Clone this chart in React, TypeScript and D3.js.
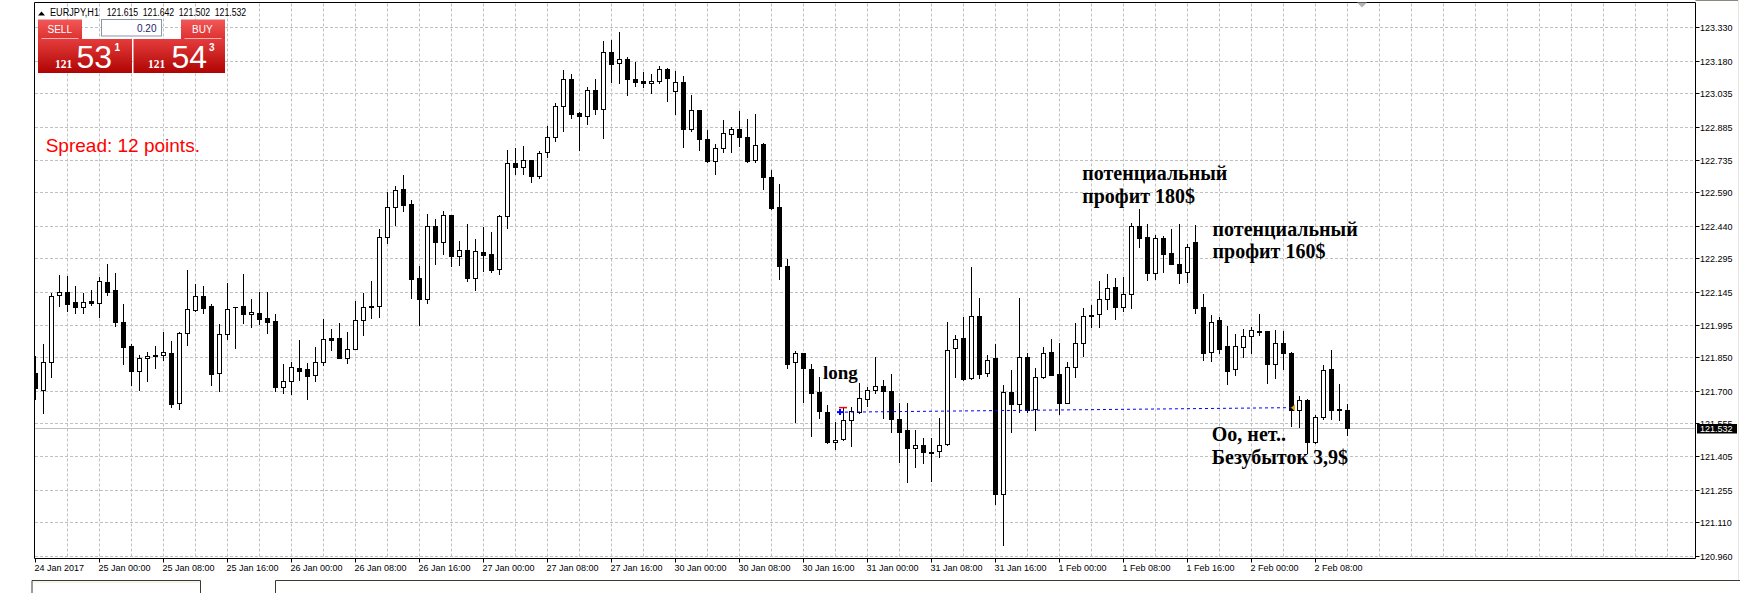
import React from "react";
import * as d3 from "d3";

// ---- DATA (EURJPY, H1) ----
const symbolTitle = "EURJPY,H1";
const headerOHLC = ["121.615", "121.642", "121.502", "121.532"];
const lotSize = "0.20";
const sellQuote = { big: "121", main: "53", small: "1" };
const buyQuote = { big: "121", main: "54", small: "3" };
const spreadText = "Spread: 12 points.";
const lastPrice = 121.532;

const open = [
  121.778, 121.703, 121.827, 122.128, 122.145, 122.096, 122.074, 122.101, 122.092, 122.187,
  122.150, 122.006, 121.899, 121.790, 121.845, 121.858, 121.858, 121.869, 121.643, 121.957,
  122.060, 122.125, 122.080, 121.778, 121.953, 122.074, 122.080, 122.042, 122.047, 122.026,
  122.011, 121.715, 121.742, 121.800, 121.796, 121.769, 121.827, 121.935, 121.935, 121.845,
  121.888, 122.015, 122.080, 122.078, 122.388, 122.525, 122.605, 122.537, 122.205, 122.113,
  122.439, 122.368, 122.486, 122.302, 122.331, 122.204, 122.320, 122.312, 122.244, 122.485,
  122.720, 122.705, 122.733, 122.664, 122.769, 122.836, 122.977, 123.097, 122.944, 122.931,
  123.047, 122.962, 123.218, 123.168, 123.186, 123.097, 123.088, 123.079, 123.088, 123.141,
  123.044, 123.083, 122.872, 122.958, 122.827, 122.729, 122.787, 122.851, 122.875, 122.836,
  122.735, 122.807, 122.657, 122.522, 122.258, 121.828, 121.867, 121.796, 121.692, 121.603,
  121.470, 121.485, 121.568, 121.603, 121.661, 121.703, 121.722, 121.697, 121.571, 121.522,
  121.441, 121.458, 121.423, 121.429, 121.459, 121.890, 121.935, 121.755, 122.033, 121.778,
  121.845, 121.235, 121.692, 121.639, 121.852, 121.616, 121.760, 121.875, 121.773, 121.646,
  121.808, 121.915, 122.041, 122.042, 122.110, 122.163, 122.077, 122.135, 122.440, 122.388,
  122.229, 122.385, 122.317, 122.268, 122.231, 122.367, 122.075, 121.875, 122.017, 121.899,
  121.796, 121.894, 121.945, 121.968, 121.966, 121.818, 121.912, 121.869, 121.613, 121.658,
  121.471, 121.583, 121.797, 121.618, 121.615,
];
const high = [
  121.855, 121.909, 122.139, 122.217, 122.214, 122.168, 122.138, 122.150, 122.210, 122.268,
  122.226, 122.087, 121.909, 121.858, 121.873, 121.902, 121.962, 121.921, 121.965, 122.241,
  122.178, 122.169, 122.087, 121.999, 122.181, 122.077, 122.223, 122.111, 122.145, 122.145,
  122.044, 121.820, 121.827, 121.927, 121.824, 121.896, 122.021, 121.976, 122.002, 121.963,
  122.102, 122.137, 122.192, 122.424, 122.590, 122.618, 122.667, 122.555, 122.259, 122.492,
  122.468, 122.506, 122.488, 122.371, 122.446, 122.382, 122.434, 122.410, 122.488, 122.780,
  122.787, 122.796, 122.736, 122.775, 122.887, 122.989, 123.137, 123.122, 122.952, 123.064,
  123.097, 123.269, 123.275, 123.309, 123.198, 123.176, 123.130, 123.119, 123.156, 123.147,
  123.136, 123.112, 123.026, 122.960, 122.869, 122.807, 122.914, 122.884, 122.953, 122.917,
  122.940, 122.811, 122.690, 122.627, 122.291, 121.878, 121.870, 121.821, 121.763, 121.636,
  121.558, 121.624, 121.628, 121.733, 121.718, 121.852, 121.748, 121.773, 121.646, 121.646,
  121.523, 121.489, 121.487, 121.577, 122.006, 121.950, 122.032, 122.253, 122.116, 121.860,
  121.908, 121.725, 121.793, 122.116, 121.867, 121.800, 121.894, 121.932, 121.912, 121.827,
  122.005, 122.072, 122.084, 122.193, 122.222, 122.204, 122.208, 122.454, 122.513, 122.446,
  122.398, 122.394, 122.425, 122.446, 122.358, 122.442, 122.132, 122.039, 122.030, 121.990,
  121.953, 121.977, 121.987, 122.042, 121.968, 121.972, 121.966, 121.875, 121.676, 121.661,
  121.591, 121.815, 121.882, 121.730, 121.642,
];
const low = [
  121.665, 121.601, 121.763, 122.081, 122.057, 122.050, 122.050, 122.086, 122.032, 122.128,
  121.991, 121.822, 121.727, 121.703, 121.745, 121.803, 121.840, 121.628, 121.619, 121.906,
  122.057, 122.047, 121.727, 121.700, 121.933, 121.893, 122.005, 121.988, 121.997, 121.960,
  121.697, 121.691, 121.686, 121.748, 121.664, 121.745, 121.815, 121.882, 121.846, 121.825,
  121.886, 121.951, 122.027, 122.029, 122.364, 122.443, 122.507, 122.117, 121.993, 122.095,
  122.270, 122.314, 122.261, 122.264, 122.193, 122.151, 122.238, 122.234, 122.222, 122.428,
  122.673, 122.670, 122.638, 122.652, 122.750, 122.818, 122.866, 122.922, 122.781, 122.895,
  122.943, 122.835, 123.083, 123.082, 123.028, 123.068, 123.064, 123.037, 123.082, 123.001,
  122.940, 122.792, 122.866, 122.778, 122.727, 122.673, 122.769, 122.772, 122.799, 122.727,
  122.727, 122.603, 122.513, 122.199, 121.800, 121.561, 121.650, 121.498, 121.576, 121.466,
  121.437, 121.477, 121.450, 121.598, 121.633, 121.691, 121.576, 121.516, 121.381, 121.292,
  121.356, 121.374, 121.296, 121.404, 121.456, 121.763, 121.748, 121.752, 121.758, 121.766,
  121.190, 121.010, 121.516, 121.603, 121.604, 121.523, 121.755, 121.770, 121.594, 121.643,
  121.760, 121.857, 121.987, 121.987, 122.066, 122.020, 122.059, 122.072, 122.346, 122.196,
  122.201, 122.232, 122.268, 122.181, 122.187, 122.050, 121.837, 121.834, 121.867, 121.730,
  121.770, 121.852, 121.870, 121.950, 121.733, 121.758, 121.797, 121.543, 121.538, 121.419,
  121.464, 121.573, 121.571, 121.568, 121.502,
];
const close = [
  121.710, 121.827, 122.126, 122.145, 122.090, 122.074, 122.096, 122.095, 122.190, 122.145,
  122.009, 121.897, 121.790, 121.845, 121.854, 121.854, 121.872, 121.640, 121.957, 122.065,
  122.125, 122.072, 121.776, 121.953, 122.065, 122.077, 122.042, 122.051, 122.023, 122.009,
  121.718, 121.742, 121.808, 121.790, 121.767, 121.827, 121.930, 121.927, 121.848, 121.888,
  122.015, 122.074, 122.074, 122.388, 122.522, 122.599, 122.534, 122.202, 122.113, 122.437,
  122.368, 122.486, 122.305, 122.331, 122.207, 122.325, 122.307, 122.241, 122.484, 122.720,
  122.705, 122.733, 122.664, 122.766, 122.836, 122.977, 123.097, 122.943, 122.931, 123.047,
  122.962, 123.218, 123.164, 123.186, 123.097, 123.083, 123.079, 123.088, 123.141, 123.101,
  123.083, 122.872, 122.958, 122.827, 122.729, 122.787, 122.854, 122.875, 122.836, 122.729,
  122.801, 122.660, 122.519, 122.258, 121.822, 121.870, 121.800, 121.688, 121.607, 121.468,
  121.480, 121.568, 121.607, 121.666, 121.703, 121.722, 121.700, 121.571, 121.516, 121.441,
  121.458, 121.423, 121.419, 121.458, 121.884, 121.930, 121.752, 122.033, 121.773, 121.840,
  121.235, 121.692, 121.642, 121.852, 121.613, 121.763, 121.870, 121.772, 121.643, 121.808,
  121.915, 122.036, 122.036, 122.110, 122.162, 122.077, 122.135, 122.440, 122.386, 122.229,
  122.383, 122.313, 122.270, 122.229, 122.343, 122.072, 121.870, 122.009, 121.888, 121.790,
  121.899, 121.945, 121.971, 121.962, 121.818, 121.912, 121.867, 121.613, 121.658, 121.471,
  121.583, 121.793, 121.615, 121.613, 121.532,
];

const priceTicks = [
  123.33, 123.18, 123.035, 122.885, 122.735, 122.59, 122.44, 122.295, 122.145,
  121.995, 121.85, 121.7, 121.555, 121.405, 121.255, 121.11, 120.96,
];
const priceTickLabels = [
  "123.330", "123.180", "123.035", "122.885", "122.735", "122.590", "122.440", "122.295", "122.145",
  "121.995", "121.850", "121.700", "121.555", "121.405", "121.255", "121.110", "120.960",
];
const timeTickBars = [0, 8, 16, 24, 32, 40, 48, 56, 64, 72, 80, 88, 96, 104, 112, 120, 128, 136, 144, 152, 160];
const timeTickLabels = [
  "24 Jan 2017", "25 Jan 00:00", "25 Jan 08:00", "25 Jan 16:00", "26 Jan 00:00", "26 Jan 08:00",
  "26 Jan 16:00", "27 Jan 00:00", "27 Jan 08:00", "27 Jan 16:00", "30 Jan 00:00", "30 Jan 08:00",
  "30 Jan 16:00", "31 Jan 00:00", "31 Jan 08:00", "31 Jan 16:00", "1 Feb 00:00", "1 Feb 08:00",
  "1 Feb 16:00", "2 Feb 00:00", "2 Feb 08:00",
];

// trade line (open -> close)
const tradeOpen = { bar: 100.75, price: 121.604 };
const tradeClose = { bar: 157, price: 121.624 };

// annotations (anchor = first line baseline)
const noteBars = [98.5, 130.9, 147.2, 147.1];
const notePrices = [121.752, 122.645, 122.394, 121.474];
const noteLines = [
  ["long"],
  ["потенциальный", "профит 180$"],
  ["потенциальный", "профит 160$"],
  ["Оо, нет..", "Безубыток 3,9$"],
];

// ---- LAYOUT ----
const W = 1762;
const H = 593;
const L = 34.5;
const R = 1695.5;
const T = 2.5;
const B = 558.5;

const xScale = d3.scaleLinear().domain([0, 164]).range([35, 35 + 8 * 164]);
const yScale = d3.scaleLinear().domain([120.96, 123.33]).range([555.7, 27.3]);

const GRID = "#c0c0c0";
const UI_FONT = "'Liberation Sans', Arial, sans-serif";
const SERIF = "'Liberation Serif', 'Times New Roman', serif";

export default function App() {
  React.useEffect(() => {
    document.body.style.margin = "0";
    document.body.style.overflow = "hidden";
  }, []);

  const px = (i: number) => Math.round(xScale(i)) + 0.5;
  const py = (p: number) => Math.round(yScale(p)) + 0.5;

  const vGridBars = d3.range(4, 208, 4);

  const candles = open.map((o, i) => {
    const c = close[i];
    const h = high[i];
    const l = low[i];
    const cx = px(i);
    const bull = c >= o;
    const top = Math.round(yScale(Math.max(o, c)));
    const bot = Math.round(yScale(Math.min(o, c)));
    return (
      <g key={i}>
        <line x1={cx} x2={cx} y1={Math.round(yScale(h))} y2={Math.round(yScale(l)) + 1} stroke="#000" strokeWidth={1} />
        {bot - top >= 1 ? (
          <rect x={cx - 2} y={top + 0.5} width={4} height={bot - top} fill={bull ? "#fff" : "#000"} stroke="#000" strokeWidth={1} />
        ) : (
          <line x1={cx - 2.5} x2={cx + 2.5} y1={top + 0.5} y2={top + 0.5} stroke="#000" strokeWidth={1} />
        )}
      </g>
    );
  });

  const tx1 = xScale(tradeOpen.bar);
  const ty1 = yScale(tradeOpen.price);
  const tx2 = xScale(tradeClose.bar);
  const ty2 = yScale(tradeClose.price);

  return (
    <svg width={W} height={H} style={{ position: "absolute", left: 0, top: 0, background: "#fff", display: "block" }}>
      <defs>
        <clipPath id="plot">
          <rect x={35} y={3} width={R - 35} height={B - 3} />
        </clipPath>
        <linearGradient id="boxGrad" x1="0" y1="0" x2="0" y2="1">
          <stop offset="0%" stopColor="#e43c3c" />
          <stop offset="100%" stopColor="#b00404" />
        </linearGradient>
        <linearGradient id="tabGrad" x1="0" y1="0" x2="0" y2="1">
          <stop offset="0%" stopColor="#f25858" />
          <stop offset="100%" stopColor="#dc3030" />
        </linearGradient>
      </defs>
      <rect x={0} y={0} width={W} height={H} fill="#fff" />

      {/* grid */}
      <g stroke={GRID} strokeWidth={1} strokeDasharray="3,2">
        {priceTicks.map((p, k) => (
          <line key={"h" + k} x1={35} x2={R - 0.5} y1={py(p)} y2={py(p)} />
        ))}
        {vGridBars.map((b) => (
          <line key={"v" + b} x1={px(b)} x2={px(b)} y1={T + 1} y2={B - 0.5} />
        ))}
      </g>

      {/* bid line */}
      <line x1={35} x2={R} y1={py(lastPrice)} y2={py(lastPrice)} stroke="#c0c0c0" strokeWidth={1} />

      {/* candles */}
      <g clipPath="url(#plot)">{candles}</g>

      {/* trade line */}
      <line x1={tx1 + 4} y1={ty1} x2={tx2} y2={ty2} stroke="#0000ff" strokeWidth={1} strokeDasharray="3,3" />
      <g stroke="#0000ff" strokeWidth={2}>
        <line x1={tx1 - 4} x2={tx1 + 3} y1={ty1} y2={ty1} />
        <line x1={tx1 - 1} x2={tx1 - 1} y1={ty1 - 3} y2={ty1 + 3} />
      </g>
      <line x1={tx1 - 2} x2={tx1 + 6} y1={ty1 - 4.5} y2={ty1 - 4.5} stroke="#ff0000" strokeWidth={1.5} />
      <path d={`M${tx2},${ty2} L${tx2 + 4},${ty2 - 3.5} L${tx2 + 4},${ty2 + 3.5} Z`} fill="#daa520" />

      {/* annotations */}
      {noteLines.map((lines, k) => (
        <text
          key={"n" + k}
          x={xScale(noteBars[k])}
          y={yScale(notePrices[k])}
          fontFamily={SERIF}
          fontWeight="bold"
          fontSize={k === 0 ? 19 : 20}
          fill="#000"
        >
          {lines.map((ln, j) => (
            <tspan key={j} x={xScale(noteBars[k])} dy={j === 0 ? 0 : 22.5}>{ln}</tspan>
          ))}
        </text>
      ))}

      {/* frame */}
      <g stroke="#000" strokeWidth={1} fill="none">
        <line x1={L} x2={L} y1={T} y2={B} />
        <line x1={L} x2={R} y1={B} y2={B} />
        <line x1={R} x2={R} y1={T} y2={B} />
        <line x1={L} x2={R} y1={T} y2={T} />
      </g>
      <line x1={R} x2={1738} y1={0.5} y2={0.5} stroke="#8a8a80" strokeWidth={1} />
      <line x1={1738.5} x2={1738.5} y1={0} y2={580} stroke="#e6e6dc" strokeWidth={1} />
      <path d="M1357,2.5 L1367,2.5 L1362,7.5 Z" fill="#b4b4b4" />

      {/* price axis */}
      <g fontFamily={UI_FONT} fontSize={9} fill="#000">
        {priceTicks.map((p, k) => (
          <g key={"pt" + k}>
            <line x1={R} x2={R + 4} y1={py(p)} y2={py(p)} stroke="#000" />
            <text x={1700} y={py(p) + 3.3}>{priceTickLabels[k]}</text>
          </g>
        ))}
      </g>
      <rect x={1697} y={py(lastPrice) - 4.5} width={40} height={9.5} fill="#000" />
      <text x={1700} y={py(lastPrice) + 3.5} fontFamily={UI_FONT} fontSize={9} fill="#fff">{lastPrice.toFixed(3)}</text>

      {/* time axis */}
      <g fontFamily={UI_FONT} fontSize={9} fill="#000">
        {timeTickBars.map((b, k) => (
          <g key={"tt" + k}>
            <line x1={px(b)} x2={px(b)} y1={B} y2={B + 4} stroke="#000" />
            <text x={px(b) - 1} y={571}>{timeTickLabels[k]}</text>
          </g>
        ))}
      </g>

      {/* bottom tabs */}
      <g stroke="#3a3a30" strokeWidth={1} fill="none">
        <path d="M32,593 L32,580.5 L200.5,580.5 L200.5,593" />
        <path d="M275.5,593 L275.5,580.5 L1740,580.5" />
      </g>
      <line x1={33} x2={200} y1={582} y2={582} stroke="#ece8da" />

      {/* header */}
      <path d="M38,15.5 L41.5,11.5 L45,15.5 Z" fill="#000" />
      <g fontFamily={UI_FONT} fontSize={10} fill="#000">
        <text x={50} y={15.5} textLength={49} lengthAdjust="spacingAndGlyphs">{symbolTitle}</text>
        {headerOHLC.map((v, k) => (
          <text key={"ho" + k} x={106.7 + 36 * k} y={15.5} textLength={31.5} lengthAdjust="spacingAndGlyphs">{v}</text>
        ))}
      </g>

      {/* SELL panel */}
      <rect x={38} y={19.5} width={44} height={20} fill="url(#tabGrad)" />
      <rect x={38} y={39} width={94} height={34} fill="url(#boxGrad)" />
      <line x1={41.5} x2={78.5} y1={38.5} y2={38.5} stroke="#f7b0b0" strokeWidth={1} />
      {/* BUY panel */}
      <rect x={181} y={19.5} width={44} height={20} fill="url(#tabGrad)" />
      <rect x={133.5} y={39} width={91.5} height={34} fill="url(#boxGrad)" />
      <line x1={184.5} x2={221.5} y1={38.5} y2={38.5} stroke="#f7b0b0" strokeWidth={1} />
      {/* lot box */}
      <rect x={101.5} y={19.5} width={60} height={16.5} fill="#fff" stroke="#8898a8" strokeWidth={1} />
      <text x={156.5} y={31.5} textAnchor="end" fontFamily={UI_FONT} fontSize={10} fill="#1a1a6e">{lotSize}</text>

      <g fill="#fff">
        <text x={47.5} y={33} fontFamily={UI_FONT} fontSize={10}>SELL</text>
        <text x={192} y={33} fontFamily={UI_FONT} fontSize={10}>BUY</text>
        <text x={55} y={67.7} fontFamily={SERIF} fontWeight="bold" fontSize={11.5}>{sellQuote.big}</text>
        <text x={76.5} y={67.7} fontFamily={UI_FONT} fontSize={32}>{sellQuote.main}</text>
        <text x={114.5} y={50.7} fontFamily={UI_FONT} fontWeight="bold" fontSize={10}>{sellQuote.small}</text>
        <text x={148} y={67.7} fontFamily={SERIF} fontWeight="bold" fontSize={11.5}>{buyQuote.big}</text>
        <text x={171.5} y={67.7} fontFamily={UI_FONT} fontSize={32}>{buyQuote.main}</text>
        <text x={209} y={50.7} fontFamily={UI_FONT} fontWeight="bold" fontSize={10}>{buyQuote.small}</text>
      </g>

      <text x={45.7} y={151.7} fontFamily={UI_FONT} fontSize={19} fill="#ff0000">{spreadText}</text>
    </svg>
  );
}
